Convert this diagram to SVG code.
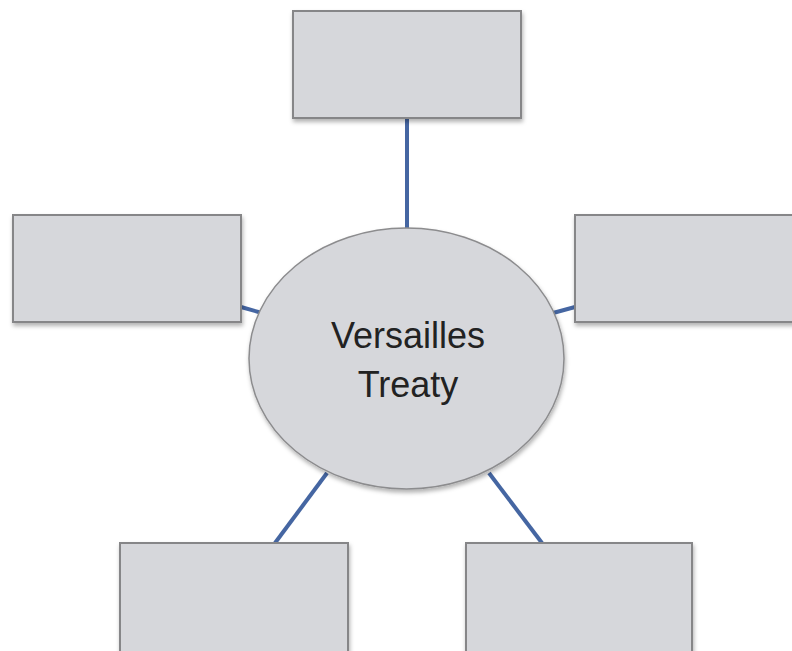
<svg xmlns="http://www.w3.org/2000/svg" width="792" height="651" viewBox="0 0 792 651">
<style>
.box{fill:#d6d7db;stroke:#868688;stroke-width:2;filter:url(#sh)}
.oval{fill:#d6d7db;stroke:#8c8c8e;stroke-width:1.5;filter:url(#sh)}
.conn{stroke:#4566a2;stroke-width:4;fill:none}
.lbl{font-family:"Liberation Sans",Arial,sans-serif;font-size:36px;fill:#222;text-anchor:middle}
</style>
<defs>
<filter id="sh" x="-10%" y="-10%" width="130%" height="130%">
<feDropShadow dx="1" dy="3" stdDeviation="2" flood-color="#000" flood-opacity="0.3"/>
</filter>
</defs>
<rect width="792" height="651" fill="#fff"/>
<g id="connectors">
<line class="conn" x1="407" y1="118" x2="407" y2="229"/>
<line class="conn" x1="241" y1="307" x2="262" y2="313"/>
<line class="conn" x1="553" y1="313" x2="575" y2="307"/>
<line class="conn" x1="327" y1="473" x2="275" y2="543"/>
<line class="conn" x1="489" y1="473" x2="542" y2="543"/>
</g>
<g id="node-top"><rect class="box" x="293" y="11" width="228" height="107"/></g>
<g id="node-left"><rect class="box" x="13" y="215" width="228" height="107"/></g>
<g id="node-right"><rect class="box" x="575" y="215" width="228" height="107"/></g>
<g id="node-bottom-left"><rect class="box" x="120" y="543" width="228" height="120"/></g>
<g id="node-bottom-right"><rect class="box" x="466" y="543" width="226" height="120"/></g>
<g id="node-center">
<ellipse class="oval" cx="406.5" cy="358.5" rx="157.5" ry="130.5"/>
<text class="lbl" x="408" y="348">Versailles</text>
<text class="lbl" x="408" y="397">Treaty</text>
</g>
</svg>
